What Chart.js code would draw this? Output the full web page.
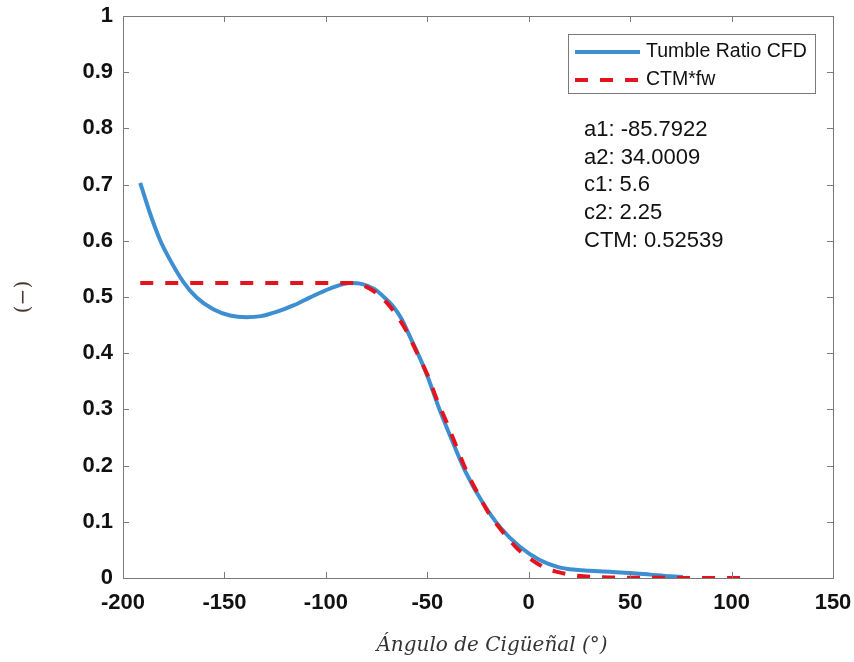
<!DOCTYPE html>
<html lang="es">
<head>
<meta charset="UTF-8">
<title>Tumble Ratio</title>
<script src="https://cdn.jsdelivr.net/npm/chart.js"></script>
<style>
  html, body { margin: 0; padding: 0; background: #fff; }
  #wrap { width: 854px; height: 662px; }
</style>
</head>
<body>
<div id="wrap"><canvas id="tumbleChart" width="854" height="662"></canvas></div>
<script>
// CFD tumble ratio vs crank angle
const tumbleAngle = [-191.5, -186.7, -181.8, -176.8, -170.3, -163.7, -155.5, -147.3, -139, -132, -124, -116, -108,
  -98, -88, -82, -76, -72, -67, -63, -58, -53, -50, -44, -37, -31, -22.5, -14, -4.5, 5.4, 15, 22, 30, 40, 50, 60, 70, 76];
const tumbleRatio = [0.703, 0.649, 0.602, 0.566, 0.527, 0.499, 0.478, 0.467, 0.464, 0.466, 0.474, 0.485, 0.499,
  0.515, 0.525, 0.523, 0.514, 0.502, 0.484, 0.463, 0.425, 0.386, 0.360, 0.300, 0.238, 0.188, 0.133, 0.090, 0.056,
  0.032, 0.019, 0.015, 0.013, 0.011, 0.009, 0.006, 0.003, 0.002];

// CTM * fw fit
const ctmAngle = [-191.5, -150, -110, -95, -86, -80, -75, -70, -65, -60, -55, -50, -45, -40, -35, -30, -25, -20, -15, -10, -5,
  0, 5, 10, 14, 20, 27, 40, 60, 80, 108];
const ctmFw = [0.525, 0.525, 0.525, 0.525, 0.525, 0.518, 0.507, 0.490, 0.467, 0.438, 0.400, 0.362, 0.315, 0.273, 0.228, 0.185, 0.150, 0.117, 0.092, 0.070, 0.050,
  0.036, 0.024, 0.015, 0.011, 0.006, 0.003, 0.001, 0.0005, 0, 0];

const xTicks = [-200, -150, -100, -50, 0, 50, 100, 150];
const yTicks = [0, 0.1, 0.2, 0.3, 0.4, 0.5, 0.6, 0.7, 0.8, 0.9, 1];

const xTitle = 'Ángulo de Cigüeñal (°)';
const fitParams = ['a1: -85.7922', 'a2: 34.0009', 'c1: 5.6', 'c2: 2.25', 'CTM: 0.52539'];

const blue = '#3d8fd1';
const red = '#e3141c';
const axisGray = '#7a7a7a';
const sans = '"Liberation Sans", Arial, sans-serif';
const serif = '"DejaVu Serif", "Liberation Serif", serif';

const toPoints = (xs, ys) => xs.map((x, i) => ({ x: x, y: ys[i] }));

// box around the plot with inward ticks on all four sides
const frameTicks = {
  id: 'frameTicks',
  afterDraw(chart) {
    const { ctx, chartArea: a, scales } = chart;
    const len = 6;
    ctx.save();
    ctx.strokeStyle = axisGray;
    ctx.lineWidth = 1;
    ctx.strokeRect(a.left + 0.5, a.top + 0.5, a.right - a.left, a.bottom - a.top);
    ctx.beginPath();
    xTicks.forEach(v => {
      const px = Math.round(scales.x.getPixelForValue(v)) + 0.5;
      ctx.moveTo(px, a.bottom); ctx.lineTo(px, a.bottom - len);
      ctx.moveTo(px, a.top); ctx.lineTo(px, a.top + len);
    });
    yTicks.forEach(v => {
      const py = Math.round(scales.y.getPixelForValue(v)) + 0.5;
      ctx.moveTo(a.left, py); ctx.lineTo(a.left + len, py);
      ctx.moveTo(a.right, py); ctx.lineTo(a.right - len, py);
    });
    ctx.stroke();

    // x axis title, a little right of centre
    ctx.font = 'italic 20px ' + serif;
    ctx.fillStyle = '#333';
    ctx.textAlign = 'center';
    ctx.textBaseline = 'alphabetic';
    ctx.fillText(xTitle, (a.left + a.right) / 2 + 14, 651);
    ctx.restore();
  }
};

// legend box in the upper right corner plus the fit parameters below it
const legendBox = {
  id: 'legendBox',
  afterDraw(chart) {
    const { ctx, chartArea: a } = chart;
    const bx = a.right - 265, by = a.top + 18, bw = 247, bh = 59;
    ctx.save();
    ctx.fillStyle = '#fff';
    ctx.fillRect(bx, by, bw, bh);
    ctx.strokeStyle = axisGray;
    ctx.lineWidth = 1;
    ctx.strokeRect(bx + 0.5, by + 0.5, bw, bh);

    ctx.font = '19.5px ' + sans;
    ctx.textBaseline = 'middle';
    ctx.fillStyle = '#111';
    chart.data.datasets.slice().reverse().forEach((ds, i) => {
      const y = by + 18 + i * 28;
      ctx.beginPath();
      ctx.strokeStyle = ds.borderColor;
      ctx.lineWidth = 4;
      ctx.setLineDash(ds.borderDash || []);
      ctx.moveTo(bx + 7, y);
      ctx.lineTo(bx + 72, y);
      ctx.stroke();
      ctx.setLineDash([]);
      ctx.fillText(ds.label, bx + 78, y);
    });

    ctx.font = '22px ' + sans;
    fitParams.forEach((t, i) => {
      ctx.fillText(t, bx + 16, a.top + 114 + i * 27.7);
    });
    ctx.restore();
  }
};

const ctx = document.getElementById('tumbleChart').getContext('2d');
new Chart(ctx, {
  type: 'line',
  data: {
    datasets: [
      {
        label: 'CTM*fw',
        data: toPoints(ctmAngle, ctmFw),
        borderColor: red,
        borderWidth: 4,
        borderDash: [13, 12],
        pointRadius: 0,
        cubicInterpolationMode: 'monotone',
        order: 0
      },
      {
        label: 'Tumble Ratio CFD',
        data: toPoints(tumbleAngle, tumbleRatio),
        borderColor: blue,
        borderWidth: 4,
        pointRadius: 0,
        cubicInterpolationMode: 'monotone',
        order: 1
      }
    ]
  },
  options: {
    responsive: false,
    animation: false,
    layout: { padding: { top: 16, right: 21, left: 0, bottom: 0 } },
    plugins: { legend: { display: false }, tooltip: { enabled: false } },
    scales: {
      x: {
        type: 'linear',
        min: -200, max: 150,
        afterFit: s => { s.height = 84; s.paddingLeft = 0; s.paddingRight = 0; },
        afterBuildTicks: s => { s.ticks = xTicks.map(v => ({ value: v })); },
        grid: { display: false, drawTicks: false, tickLength: 0 },
        border: { display: false },
        ticks: {
          color: '#111',
          padding: 12,
          maxRotation: 0,
          font: { family: sans, size: 22, weight: 'bold' }
        }
      },
      y: {
        min: 0, max: 1,
        afterFit: s => { s.width = 123; s.paddingTop = 0; s.paddingBottom = 0; },
        afterBuildTicks: s => { s.ticks = yTicks.map(v => ({ value: v })); },
        grid: { display: false, drawTicks: false, tickLength: 0 },
        border: { display: false },
        ticks: {
          color: '#111',
          padding: 10,
          callback: v => String(Number(v.toFixed(1))),
          font: { family: sans, size: 22, weight: 'bold' }
        },
        title: {
          display: true,
          text: '(−)',
          color: '#4a3530',
          padding: { top: 12, bottom: 0 },
          font: { family: serif, size: 20 }
        }
      }
    }
  },
  plugins: [frameTicks, legendBox]
});
</script>
</body>
</html>
